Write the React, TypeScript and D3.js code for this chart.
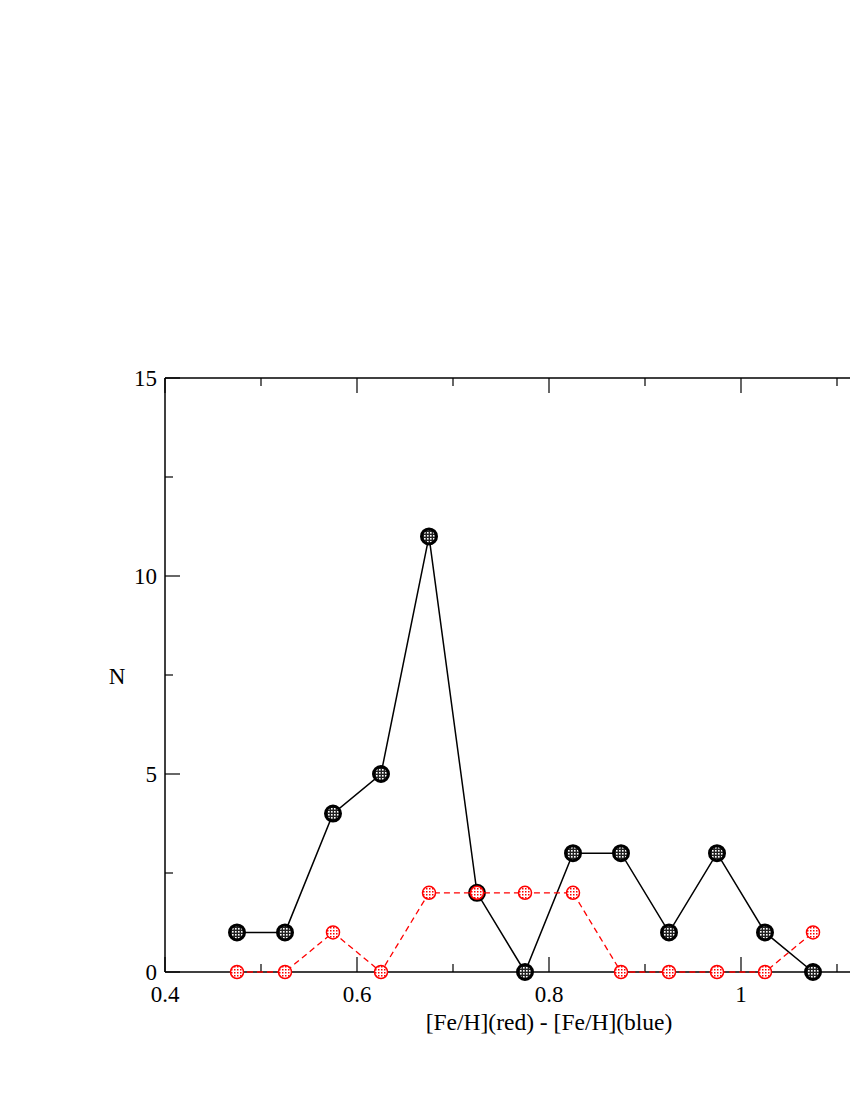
import * as d3 from "d3";

// bin centres and counts
const binCentres = [0.475, 0.525, 0.575, 0.625, 0.675, 0.725, 0.775, 0.825, 0.875, 0.925, 0.975, 1.025, 1.075];
const allCounts = [1, 1, 4, 5, 11, 2, 0, 3, 3, 1, 3, 1, 0];
const redCounts = [0, 0, 1, 0, 2, 2, 2, 2, 0, 0, 0, 0, 1];

const xMajor = [0.4, 0.6, 0.8, 1.0];
const xMinor = [0.5, 0.7, 0.9, 1.1];
const yMajor = [0, 5, 10, 15];
const yMinor = [2.5, 7.5, 12.5];

const font = "Liberation Serif, Times New Roman, serif";

function App() {
  const width = 850;
  const height = 1100;
  const left = 165, top = 378, bottom = 972;

  // 0.2 units = 192px; frame runs past the right edge of the page
  const x = d3.scaleLinear().domain([0.4, 1.2]).range([left, left + 768]);
  const y = d3.scaleLinear().domain([0, 15]).range([bottom, top]);

  const line = d3.line<number>()
    .x((_, i) => x(binCentres[i]))
    .y((d) => y(d));

  const fmt = (v: number) => (v === 1 ? "1" : d3.format(".1f")(v));

  return (
    <svg width={width} height={height} style={{ position: "absolute", left: 0, top: 0, background: "#fff" }}>
      <defs>
        <pattern id="dotsBlack" width="3" height="3" patternUnits="userSpaceOnUse">
          <rect width="3" height="3" fill="#222" />
          <rect x="1" y="1" width="1.6" height="1.6" fill="#fff" />
        </pattern>
        <pattern id="dotsRed" width="3" height="3" patternUnits="userSpaceOnUse">
          <rect width="3" height="3" fill="#fff" />
          <rect x="0" y="0" width="1.5" height="1.5" fill="#f00" />
        </pattern>
      </defs>

      {/* frame */}
      <g stroke="#000" strokeWidth={1.5} fill="none">
        <line x1={left} x2={width} y1={top} y2={top} />
        <line x1={left} x2={width} y1={bottom} y2={bottom} />
        <line x1={left} x2={left} y1={top} y2={bottom} />
      </g>

      {/* ticks point inward */}
      <g stroke="#000" strokeWidth={1.2}>
        {xMajor.map((t) => (
          <g key={"xM" + t}>
            <line x1={x(t)} x2={x(t)} y1={bottom} y2={bottom - 15} />
            <line x1={x(t)} x2={x(t)} y1={top} y2={top + 15} />
          </g>
        ))}
        {xMinor.map((t) => (
          <g key={"xm" + t}>
            <line x1={x(t)} x2={x(t)} y1={bottom} y2={bottom - 8} />
            <line x1={x(t)} x2={x(t)} y1={top} y2={top + 8} />
          </g>
        ))}
        {yMajor.map((t) => (
          <line key={"yM" + t} x1={left} x2={left + 15} y1={y(t)} y2={y(t)} />
        ))}
        {yMinor.map((t) => (
          <line key={"ym" + t} x1={left} x2={left + 8} y1={y(t)} y2={y(t)} />
        ))}
      </g>

      {/* tick labels */}
      <g fontFamily={font} fontSize={23} fill="#000">
        {xMajor.map((t) => (
          <text key={"xl" + t} x={x(t)} y={bottom + 30} textAnchor="middle">{fmt(t)}</text>
        ))}
        {yMajor.map((t) => (
          <text key={"yl" + t} x={left - 8} y={y(t) + 8} textAnchor="end">{t}</text>
        ))}
      </g>

      {/* axis titles */}
      <text x={x(0.8)} y={1030} textAnchor="middle" fontFamily={font} fontSize={23.5}>
        [Fe/H](red) - [Fe/H](blue)
      </text>
      <text x={117} y={684} textAnchor="middle" fontFamily={font} fontSize={23}>N</text>

      {/* black series */}
      <path d={line(allCounts) ?? ""} fill="none" stroke="#000" strokeWidth={1.5} />
      {allCounts.map((v, i) => (
        <circle key={"b" + i} cx={x(binCentres[i])} cy={y(v)} r={7.5} fill="url(#dotsBlack)" stroke="#000" strokeWidth={3} />
      ))}

      {/* red series */}
      <path d={line(redCounts) ?? ""} fill="none" stroke="#f00" strokeWidth={1.3} strokeDasharray="6,4" />
      {redCounts.map((v, i) => (
        <circle key={"r" + i} cx={x(binCentres[i])} cy={y(v)} r={6.5} fill="url(#dotsRed)" stroke="#f00" strokeWidth={1.5} />
      ))}
    </svg>
  );
}

export default App;
